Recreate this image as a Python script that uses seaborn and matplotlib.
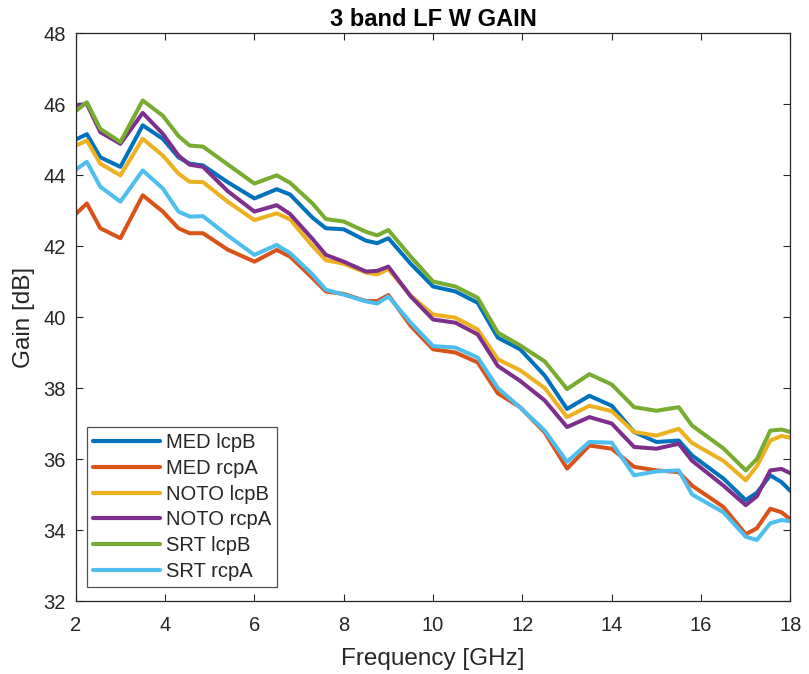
import numpy as np
import pandas as pd
import matplotlib
matplotlib.use("Agg")
import matplotlib.pyplot as plt
import seaborn as sns

freq = [2.0, 2.25, 2.55, 3.0, 3.5, 3.95, 4.3, 4.55, 4.85, 5.4, 6.0, 6.5, 6.8, 7.3, 7.6,
        8.0, 8.5, 8.75, 9.0, 9.5, 10.0, 10.5, 11.0, 11.45, 11.95, 12.5, 13.0, 13.5, 14.0,
        14.5, 15.0, 15.5, 15.8, 16.5, 17.0, 17.25, 17.55, 17.8, 18.0]

med_lcpB = [45.0, 45.15, 44.5, 44.23, 45.4, 45.02, 44.5, 44.32, 44.27, 43.8, 43.34, 43.6, 43.45, 42.8, 42.5,
            42.47, 42.15, 42.08, 42.22, 41.5, 40.86, 40.72, 40.4, 39.42, 39.09, 38.35, 37.41, 37.78, 37.5,
            36.76, 36.48, 36.52, 36.1, 35.45, 34.84, 35.05, 35.54, 35.35, 35.1]
med_rcpA = [42.9, 43.2, 42.5, 42.22, 43.43, 42.97, 42.5, 42.36, 42.36, 41.9, 41.56, 41.89, 41.7, 41.1, 40.72,
            40.65, 40.45, 40.45, 40.62, 39.75, 39.09, 39.0, 38.72, 37.85, 37.46, 36.75, 35.73, 36.38, 36.29,
            35.78, 35.68, 35.63, 35.25, 34.65, 33.88, 34.05, 34.6, 34.5, 34.3]
noto_lcpB = [44.83, 44.97, 44.32, 43.99, 45.02, 44.55, 44.04, 43.81, 43.8, 43.25, 42.73, 42.92, 42.75, 42.0, 41.6,
             41.5, 41.25, 41.2, 41.35, 40.6, 40.07, 39.98, 39.65, 38.81, 38.5, 38.0, 37.18, 37.5, 37.35,
             36.76, 36.66, 36.85, 36.45, 35.95, 35.4, 35.8, 36.52, 36.65, 36.6]
noto_rcpA = [45.97, 46.0, 45.21, 44.88, 45.75, 45.16, 44.55, 44.29, 44.23, 43.55, 42.97, 43.15, 42.9, 42.2, 41.75,
             41.56, 41.28, 41.3, 41.42, 40.58, 39.93, 39.84, 39.51, 38.62, 38.2, 37.65, 36.9, 37.18, 37.0,
             36.34, 36.29, 36.43, 35.95, 35.25, 34.7, 34.95, 35.68, 35.72, 35.6]
srt_lcpB = [45.8, 46.05, 45.3, 44.93, 46.1, 45.67, 45.1, 44.83, 44.8, 44.3, 43.76, 43.99, 43.78, 43.2, 42.76,
            42.69, 42.4, 42.3, 42.45, 41.7, 41.0, 40.86, 40.54, 39.56, 39.2, 38.75, 37.97, 38.39, 38.1,
            37.46, 37.36, 37.46, 36.94, 36.3, 35.68, 36.0, 36.8, 36.83, 36.76]
srt_rcpA = [44.15, 44.37, 43.67, 43.25, 44.13, 43.62, 42.97, 42.83, 42.84, 42.3, 41.75, 42.03, 41.8, 41.2, 40.77,
            40.63, 40.44, 40.38, 40.58, 39.84, 39.18, 39.14, 38.86, 38.0, 37.45, 36.8, 35.92, 36.48, 36.46,
            35.54, 35.65, 35.68, 35.0, 34.5, 33.81, 33.72, 34.19, 34.28, 34.25]

series_names = ["MED lcpB", "MED rcpA", "NOTO lcpB", "NOTO rcpA", "SRT lcpB", "SRT rcpA"]
series_values = [med_lcpB, med_rcpA, noto_lcpB, noto_rcpA, srt_lcpB, srt_rcpA]
colors = ["#0072BD", "#D95319", "#EDB120", "#7E2F8E", "#77AC30", "#4DBEEE"]

x_ticks = [2, 4, 6, 8, 10, 12, 14, 16, 18]
y_ticks = [32, 34, 36, 38, 40, 42, 44, 46, 48]

frames = []
for name, vals in zip(series_names, series_values):
    frames.append(pd.DataFrame({"Frequency": freq, "Gain": vals, "Series": name}))
df = pd.concat(frames, ignore_index=True)

sns.set_style("white")
plt.rcParams["font.family"] = ["Liberation Sans", "DejaVu Sans"]

fig = plt.figure(figsize=(8.09, 6.74), dpi=100)
ax = fig.add_axes([0.0936, 0.1083, 0.8834, 0.8427])

sns.lineplot(data=df, x="Frequency", y="Gain", hue="Series", hue_order=series_names,
             palette=colors, linewidth=2.9, ax=ax, sort=False)

ax.set_xlim(2, 18)
ax.set_ylim(32, 48)
ax.set_xticks(x_ticks)
ax.set_yticks(y_ticks)
dark = "#262626"
ax.tick_params(direction="in", length=5, width=0.8, colors=dark, labelsize=14.5,
               top=True, right=True, bottom=True, left=True)
ax.tick_params(axis="x", pad=11)
ax.tick_params(axis="y", pad=7)
for s in ax.spines.values():
    s.set_color(dark)
    s.set_linewidth(0.9)
ax.set_xlabel("Frequency [GHz]", fontsize=17.5, color=dark, labelpad=9)
ax.set_ylabel("Gain [dB]", fontsize=17.5, color=dark, labelpad=6)
ax.set_title("3 band LF W GAIN", fontsize=17, fontweight="bold", color="black", pad=5)

leg = ax.legend(loc="lower left", bbox_to_anchor=(0.0162, 0.0252), borderaxespad=0,
                fontsize=14.5, handlelength=3.3, handletextpad=0.3, labelspacing=0.33,
                frameon=True, fancybox=False, borderpad=0.3)
leg.get_frame().set_edgecolor(dark)
leg.get_frame().set_linewidth(0.9)
for line in leg.get_lines():
    line.set_linewidth(3)
for t in leg.get_texts():
    t.set_color(dark)

fig.savefig("out.png", dpi=100)
